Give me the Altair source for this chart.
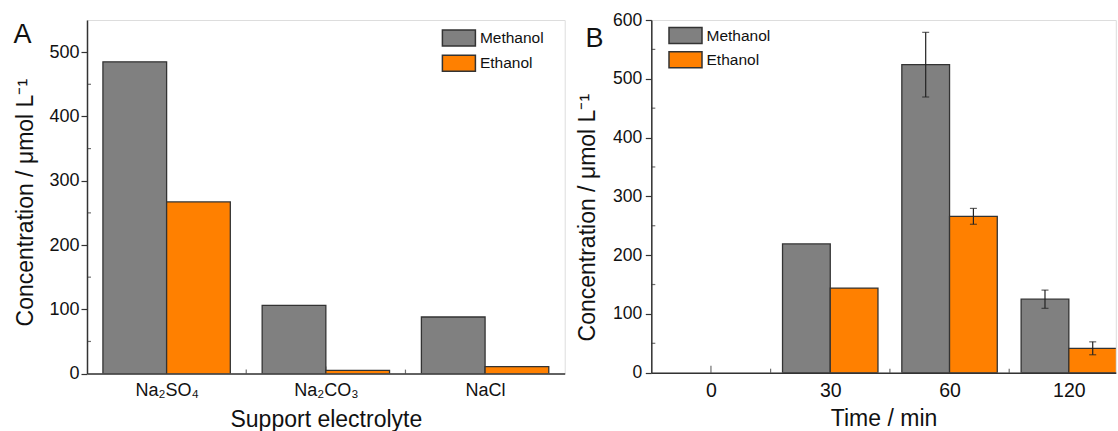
import altair as alt
import pandas as pd

FONT = "Liberation Sans"

panel_labels = ["A", "B"]
series_names = ["Methanol", "Ethanol"]
series_colors = ["#808080", "#FF8000"]
y_title = "Concentration / μmol L⁻¹"

# Panel A
electrolytes = ["Na₂SO₄", "Na₂CO₃", "NaCl"]
methanol_a = [485, 106, 88]
ethanol_a = [267, 5, 11]
y_ticks_a = [0, 100, 200, 300, 400, 500]
y_minor_a = [50, 150, 250, 350, 450]

# Panel B
times = ["0", "30", "60", "120"]
methanol_b = [0, 219, 524, 125]
methanol_b_err = [0, 0, 55, 15.5]
ethanol_b = [0, 144, 266, 41.5]
ethanol_b_err = [0, 0, 13.5, 11]
y_ticks_b = [0, 100, 200, 300, 400, 500, 600]
y_minor_b = [50, 150, 250, 350, 450, 550]


def long_table(cats, meth, eth, meth_err=None, eth_err=None):
    rows = []
    for i, c in enumerate(cats):
        rows.append(dict(idx=i, cat=c, series="Methanol", value=meth[i],
                         err=(meth_err[i] if meth_err else 0)))
        rows.append(dict(idx=i, cat=c, series="Ethanol", value=eth[i],
                         err=(eth_err[i] if eth_err else 0)))
    return pd.DataFrame(rows)


def panel(df, cats, y_max, y_ticks, y_minor, width, height, x_max, x_title,
          y_label_size, y_label_pad, x_label_size, x_label_pad, y_title_x, y_title_y,
          x_title_y, legend_x, legend_y, legend_row_pad, label_text, label_x, label_y):
    n = len(cats)
    xscale = alt.Scale(domain=[-0.5, x_max], nice=False, zero=False)
    yscale = alt.Scale(domain=[0, y_max], nice=False, zero=True)
    label_expr = "[" + ",".join("'" + c + "'" for c in cats) + "][datum.value]"
    xaxis = alt.Axis(values=list(range(n)), labelExpr=label_expr, ticks=False, grid=False,
                     labelFontSize=x_label_size, labelBaseline="alphabetic",
                     labelPadding=x_label_pad, labelFlush=False, labelFont=FONT,
                     labelColor="#111", title=x_title, titleFont=FONT, titleFontSize=23,
                     titleFontWeight="normal", titleBaseline="alphabetic", titleY=x_title_y,
                     titleColor="#111", domainColor="#333", domainWidth=1.5)
    yaxis = alt.Axis(values=y_ticks, grid=False, tickSize=6, tickColor="#333", tickWidth=1.2,
                     labelFontSize=y_label_size, labelPadding=y_label_pad, labelFont=FONT,
                     labelColor="#111", title=y_title, titleFont=FONT, titleFontSize=23,
                     titleFontWeight="normal", titleBaseline="alphabetic", titleAlign="center",
                     titleAngle=270, titleX=y_title_x, titleY=y_title_y, titleColor="#111",
                     domainColor="#333", domainWidth=1.5)

    def X(field):
        return alt.X(field, scale=xscale, axis=xaxis, title=x_title)

    def Y(field):
        return alt.Y(field, scale=yscale, axis=yaxis, title=y_title)

    base = alt.Chart(df)

    tick_df = pd.DataFrame({"pos": [i for i in range(n)] + [i + 0.5 for i in range(n - 1)],
                            "kind": ["major"] * n + ["minor"] * (n - 1)})
    major_ticks = alt.Chart(tick_df).transform_filter("datum.kind == 'major'").mark_tick(
        orient="vertical", size=7, thickness=1.2, color="#333").encode(
        x=X("pos:Q"), y=alt.value(height - 3.5))
    minor_ticks = alt.Chart(tick_df).transform_filter("datum.kind == 'minor'").mark_tick(
        orient="vertical", size=4, thickness=1.2, color="#333").encode(
        x=X("pos:Q"), y=alt.value(height - 2))

    bars = base.transform_filter("datum.value > 0").transform_calculate(
        x0="datum.idx + (datum.series == 'Methanol' ? -0.4 : 0)",
        x1="datum.idx + (datum.series == 'Methanol' ? 0 : 0.4)",
    ).mark_bar(stroke="#333", strokeWidth=1.3, clip=True).encode(
        x=X("x0:Q"),
        x2="x1:Q",
        y=Y("value:Q"),
        y2=alt.datum(0),
        color=alt.Color("series:N", scale=alt.Scale(domain=series_names, range=series_colors),
                        legend=alt.Legend(orient="none", legendX=legend_x, legendY=legend_y,
                                          title=None, symbolType="M-2.0625,-1H2.0625V1H-2.0625Z",
                                          symbolSize=256, symbolStrokeColor="#333",
                                          symbolStrokeWidth=1.5, symbolOpacity=1,
                                          labelFont=FONT, labelFontSize=15.5, labelColor="#111",
                                          labelOffset=12, rowPadding=legend_row_pad, padding=0)),
    )

    err = base.transform_filter("datum.err > 0").transform_calculate(
        xc="datum.idx + (datum.series == 'Methanol' ? -0.2 : 0.2)",
        lo="datum.value - datum.err",
        hi="datum.value + datum.err",
    )
    err_rule = err.mark_rule(color="#222", strokeWidth=1.2).encode(
        x=X("xc:Q"), y=Y("lo:Q"), y2="hi:Q")
    err_caps = err.transform_fold(["lo", "hi"], as_=["end", "cap"]).mark_tick(
        orient="horizontal", size=7, thickness=1.2, color="#222").encode(
        x=X("xc:Q"), y=Y("cap:Q"))

    ymin_df = pd.DataFrame({"v": y_minor})
    y_minor_ticks = alt.Chart(ymin_df).mark_tick(
        orient="horizontal", size=4, thickness=1.2, color="#333").encode(
        y=Y("v:Q"), x=alt.value(2))

    label = alt.Chart(pd.DataFrame({"t": [label_text]})).mark_text(
        font=FONT, fontSize=27, align="left", baseline="alphabetic", color="#111").encode(
        text="t:N", x=alt.value(label_x), y=alt.value(label_y))

    return alt.layer(major_ticks, minor_ticks, bars, err_rule, err_caps, y_minor_ticks, label
                     ).properties(width=width, height=height)


df_a = long_table(electrolytes, methanol_a, ethanol_a)
df_b = long_table(times, methanol_b, ethanol_b, methanol_b_err, ethanol_b_err)

T = 17.8
panel_a = panel(df_a, electrolytes, 550, y_ticks_a, y_minor_a, 477.7, 353.6, 2.5,
                "Support electrolyte", 18, 2, 18, 21.4, -55, 200 - T, 52.5,
                354.4 + 8.5, 26.7 - T, 3.3, panel_labels[0], -73.5, 41 - T)
panel_b = panel(df_b, times, 600, y_ticks_b, y_minor_b, 464.5, 352.7, -0.5 + 464.5 / 119.3,
                "Time / min", 17.5, 3.6, 19.5, 24, -57.3, 215 - T, 53,
                16.7 + 8.5, 24.3 - T, 2.3, panel_labels[1], -65.8, 45 - T)

chart = alt.hconcat(panel_a, panel_b, spacing=86.3, bounds="flush").resolve_scale(
    color="independent").properties(
    padding={"left": 13, "top": 10, "right": 0, "bottom": 0}).configure_view(
    stroke="#555", strokeWidth=1.5).configure(font=FONT)

chart.save("out.html", embed_options={"renderer": "svg", "actions": False})
